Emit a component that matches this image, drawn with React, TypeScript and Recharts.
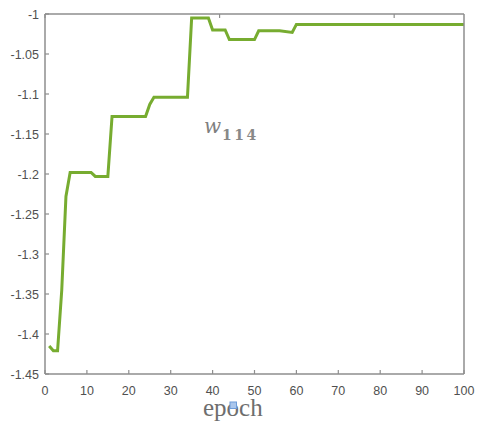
import { LineChart, Line, XAxis, YAxis } from 'recharts';

// breakpoints of the w114 trace (epoch -> weight)
const epochs = [1, 2, 3, 4, 5, 6, 11, 12, 15, 16, 24, 25, 26, 34, 35, 39, 40, 43, 44, 50, 51, 56, 59, 60, 100];
const weights = [
  -1.415, -1.421, -1.421, -1.345, -1.228, -1.198, -1.198, -1.203, -1.203, -1.128, -1.128, -1.113,
  -1.104, -1.104, -1.005, -1.005, -1.02, -1.02, -1.032, -1.032, -1.021, -1.021, -1.023, -1.013,
  -1.013,
];
const xTicks = [0, 10, 20, 30, 40, 50, 60, 70, 80, 90, 100];
const yTicks = [-1.45, -1.4, -1.35, -1.3, -1.25, -1.2, -1.15, -1.1, -1.05, -1];

const data = epochs.map((e, i) => ({ epoch: e, w: weights[i] }));

const AXIS = '#8e8e8e';
const LABEL = '#505050';
const FONT = "'Liberation Sans', Arial, sans-serif";

const BottomTick = ({ x, y, payload }: any) => (
  <g>
    <line x1={x} x2={x} y1={y} y2={y - 4} stroke={AXIS} strokeWidth={1.2} />
    <text x={x} y={y + 21} textAnchor="middle" fontSize={12.5} fontFamily={FONT} fill={LABEL}>
      {payload.value}
    </text>
  </g>
);

const LeftTick = ({ x, y, payload }: any) => (
  <g>
    <line x1={x} x2={x + 4} y1={y} y2={y} stroke={AXIS} strokeWidth={1.2} />
    <text x={x - 6} y={y + 4.5} textAnchor="end" fontSize={12.5} fontFamily={FONT} fill={LABEL}>
      {payload.value}
    </text>
  </g>
);

const TopTick = ({ x, y }: any) => (
  <line x1={x} x2={x} y1={y} y2={y + 4} stroke={AXIS} strokeWidth={1.2} />
);

const RightTick = ({ x, y }: any) => (
  <line x1={x} x2={x - 4} y1={y} y2={y} stroke={AXIS} strokeWidth={1.2} />
);

export default function App() {
  const axisLine = { stroke: AXIS, strokeWidth: 1.5 };
  return (
    <div style={{ position: 'absolute', left: 0, top: 0, width: 481, height: 425, background: '#fff' }}>
      <LineChart width={481} height={425} data={data} margin={{ top: 0, right: 0, bottom: 21, left: 0 }}>
        <XAxis
          dataKey="epoch"
          type="number"
          domain={[0, 100]}
          ticks={xTicks}
          interval={0}
          height={30}
          tickSize={0}
          tickMargin={0}
          tickLine={false}
          axisLine={axisLine}
          tick={<BottomTick />}
        />
        <XAxis
          xAxisId="top"
          orientation="top"
          type="number"
          domain={[0, 100]}
          ticks={xTicks}
          interval={0}
          height={14}
          tickSize={0}
          tickMargin={0}
          tickLine={false}
          axisLine={axisLine}
          tick={<TopTick />}
        />
        <YAxis
          type="number"
          domain={[-1.45, -1]}
          ticks={yTicks}
          interval={0}
          width={45}
          tickSize={0}
          tickMargin={0}
          tickLine={false}
          axisLine={axisLine}
          tick={<LeftTick />}
        />
        <YAxis
          yAxisId="right"
          orientation="right"
          type="number"
          domain={[-1.45, -1]}
          ticks={yTicks}
          interval={0}
          width={17}
          tickSize={0}
          tickMargin={0}
          tickLine={false}
          axisLine={axisLine}
          tick={<RightTick />}
        />
        <Line
          type="linear"
          dataKey="w"
          stroke="#77ac30"
          strokeWidth={3}
          dot={false}
          isAnimationActive={false}
        />
      </LineChart>
      <svg
        width={481}
        height={425}
        style={{ position: 'absolute', left: 0, top: 0, pointerEvents: 'none' }}
      >
        <text x={204} y={133} fontSize={20} fontStyle="italic" fontFamily="'DejaVu Serif', serif" fill="#7f7f7f">
          w
        </text>
        <text
          x={222}
          y={139.5}
          fontSize={14}
          fontWeight={600}
          letterSpacing={2.5}
          fontFamily="'DejaVu Serif', serif"
          fill="#888"
        >
          114
        </text>
        <text x={203} y={416} fontSize={25} fontFamily="'Liberation Serif', serif" fill="#6e6e6e">
          epoch
        </text>
        <rect x={230} y={402} width={6.5} height={6.5} fill="#a9c6ec" stroke="#6d9cd8" strokeWidth={1} />
      </svg>
    </div>
  );
}
